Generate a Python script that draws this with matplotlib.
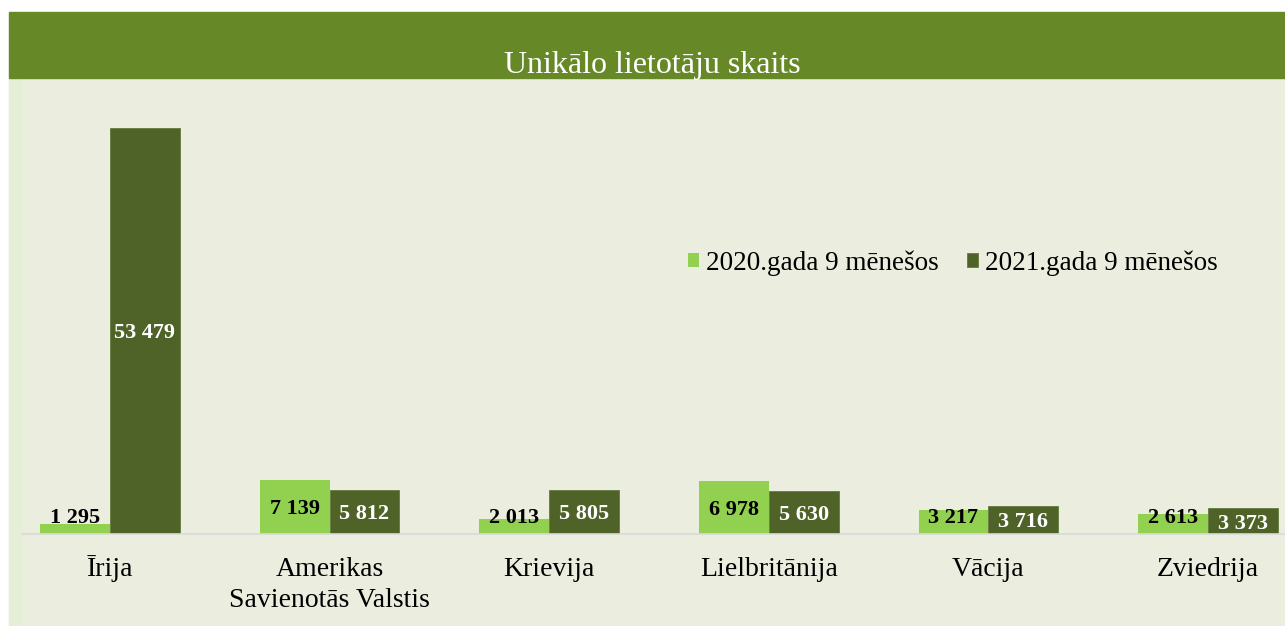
import matplotlib.pyplot as plt
from matplotlib.patches import Rectangle
from matplotlib.transforms import ScaledTranslation
import numpy as np

# --- data ---
countries = ["Īrija", "Amerikas\nSavienotās Valstis", "Krievija",
             "Lielbritānija", "Vācija", "Zviedrija"]
users_2020 = [1295, 7139, 2013, 6978, 3217, 2613]
users_2021 = [53479, 5812, 5805, 5630, 3716, 3373]
series_names = ["2020.gada 9 mēnešos", "2021.gada 9 mēnešos"]
chart_title = "Unikālo lietotāju skaits"

LIGHT = "#92d050"
DARK = "#4f6228"
BAR_TITLE = "#678826"
BG = "#ebeedf"

plt.rcParams["font.family"] = ["Liberation Serif", "DejaVu Serif"]

W, H = 1285, 626
fig = plt.figure(figsize=(W / 100, H / 100), dpi=100)
fig.patch.set_facecolor("white")

# background panels (figure coords)
fig.patches.append(Rectangle((9 / W, 0), 1 - 9 / W, (H - 78) / H,
                             transform=fig.transFigure, color=BG, zorder=-2))
fig.patches.append(Rectangle((9 / W, 0), 13 / W, (H - 78) / H,
                             transform=fig.transFigure, color="#e5eed6", zorder=-1))
fig.patches.append(Rectangle((9 / W, (H - 78) / H), 1 - 9 / W, 66 / H,
                             transform=fig.transFigure, color=BAR_TITLE, zorder=-1))
fig.text(652 / W, (H - 73) / H, chart_title, color="white", fontsize=23,
         ha="center", va="baseline")

# axes: baseline at y=534px, top of range at y=78px
ax_bottom = (H - 534) / H
ax_top = (H - 78) / H
ax = fig.add_axes([22 / W, ax_bottom, 1 - 22 / W, ax_top - ax_bottom])
ax.set_facecolor("none")

x = np.arange(len(countries))
width = 0.318
b1 = ax.bar(x - width / 2, users_2020, width, color=LIGHT, label=series_names[0])
b2 = ax.bar(x + width / 2, users_2021, width, color=DARK, label=series_names[1],
            edgecolor="#637a3a", linewidth=0.6)

spacing_px = 219.6
first_px = 110
ax.set_xlim((22 - first_px) / spacing_px, (W - first_px) / spacing_px)
ax.set_ylim(0, 60000)

def fmt(v):
    return f"{v:,}".replace(",", " ")

label_floor = 2450
for xi, v in zip(x, users_2020):
    ax.text(xi - width / 2, max(v / 2, label_floor), fmt(v), ha="center",
            va="center_baseline", fontsize=16, fontweight="bold", color="black")
for xi, v in zip(x, users_2021):
    ax.text(xi + width / 2, v / 2, fmt(v), ha="center",
            va="center_baseline", fontsize=16, fontweight="bold", color="white")

ax.set_xticks(x)
ax.set_xticklabels(countries, fontsize=20, linespacing=1.3)
ax.tick_params(axis="x", length=0, pad=16.5)
# the macron on Ī pushes that label down a little; nudge it back up
lbl = ax.get_xticklabels()[0]
lbl.set_transform(lbl.get_transform() + ScaledTranslation(0, 1.2 / 72, fig.dpi_scale_trans))
ax.set_yticks([])
for s in ["top", "left", "right"]:
    ax.spines[s].set_visible(False)
ax.spines["bottom"].set_color("#d9d9d9")
ax.spines["bottom"].set_linewidth(1.2)

ax.legend(loc="center left", bbox_to_anchor=(688 / W, (H - 263) / H),
          bbox_transform=fig.transFigure, ncol=2, frameon=False,
          fontsize=19.5, handlelength=0.4, handleheight=0.4,
          handletextpad=0.27, columnspacing=1.05, borderpad=0,
          borderaxespad=0)

fig.savefig("out.png", dpi=100, facecolor=fig.get_facecolor())
